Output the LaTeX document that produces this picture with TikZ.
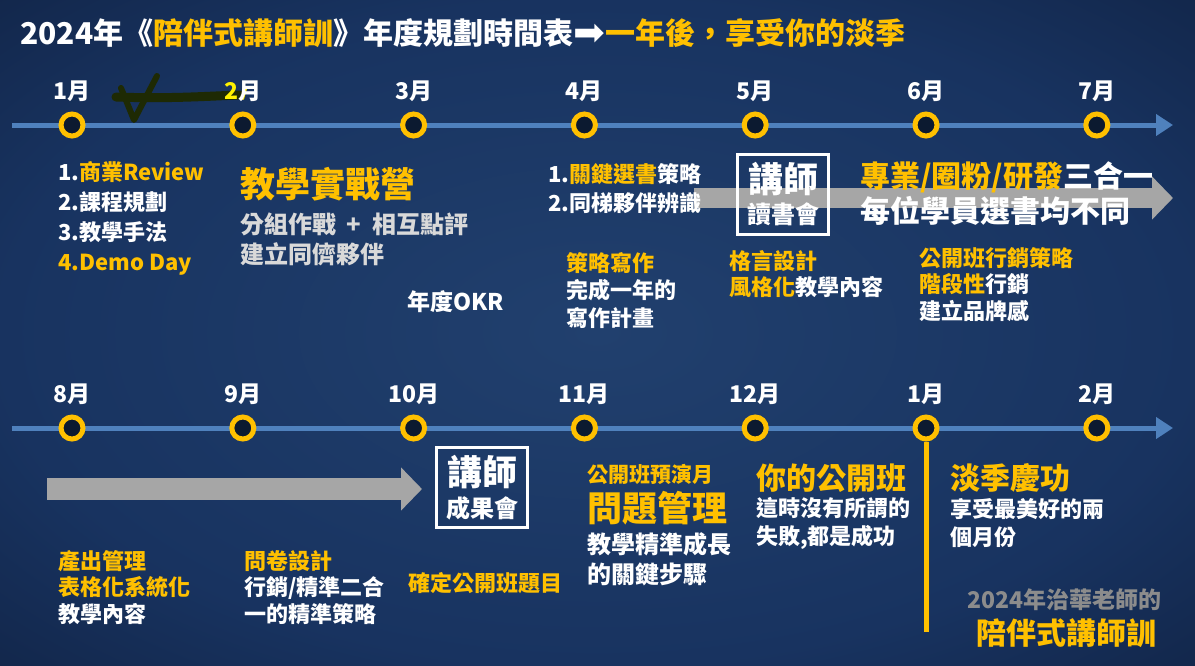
\documentclass[tikz,border=0pt]{standalone}
\usepackage{fontspec}
\setmainfont{Noto Sans CJK TC}
\newfontfamily\arrowfont{DejaVu Sans}
\usetikzlibrary{positioning,arrows.meta}

\definecolor{ochre}{HTML}{FFC000}
\definecolor{lineblue}{HTML}{4F81BD}
\definecolor{arrowgray}{HTML}{A6A6A6}
\definecolor{softgray}{HTML}{D9D9D9}
\definecolor{signgray}{HTML}{8C8C8C}
\definecolor{dotfill}{HTML}{0C1A30}
\definecolor{inkgreen}{HTML}{1E2A04}
\definecolor{bgcore}{HTML}{21406E}
\definecolor{bgmid}{HTML}{183360}
\definecolor{bgedge}{HTML}{0B1730}

\pgfdeclareradialshading{bgglow}{\pgfpoint{0bp}{0bp}}{color(0bp)=(bgcore); color(25bp)=(bgmid); color(50bp)=(bgedge)}

\newcommand{\fsz}[2]{\fontsize{#1}{#2}\selectfont}
\newcommand{\hl}[1]{\textcolor{ochre}{#1}}

\tikzset{
  timeline/.style={lineblue, line width=5pt, -{Triangle[length=17pt,width=21pt]}},
  bigarrow/.style={arrowgray, -{Triangle[length=21pt,width=42pt]}},
  dot/.style={circle, draw=ochre, line width=5pt, fill=dotfill, minimum size=22pt, inner sep=0pt},
  month/.style={text=white, inner sep=0pt, font=\bfseries\fsz{23}{23}},
  txt/.style={anchor=west, inner sep=0pt, align=left, text=white},
  frame/.style={draw=white, line width=3pt, minimum width=91pt, minimum height=80pt, inner sep=0pt},
}

\begin{document}
\begin{tikzpicture}[x=1pt,y=-1pt]
  \useasboundingbox (0,0) rectangle (1195,665);
  \shade[shading=bgglow] (0,0) rectangle (1195,665);

  % grey arrows behind the text
  \coordinate (g1s) at (694,198);
  \coordinate (g1e) at (1173,198);
  \draw [bigarrow, line width=20pt] (g1s) -- (g1e);
  \coordinate (g2s) at (47,489);
  \coordinate (g2e) at (422,489);
  \draw [bigarrow, line width=22pt] (g2s) -- (g2e);

  % the two time lines
  \coordinate (r1s) at (12,125);
  \coordinate (r1e) at (1173,125);
  \draw [timeline] (r1s) -- (r1e);
  \coordinate (r2s) at (12,428);
  \coordinate (r2e) at (1173,428);
  \draw [timeline] (r2s) -- (r2e);

  % hand-drawn tick
  \draw [inkgreen, line width=9pt, line cap=round] (116,97) .. controls (170,99) and (210,96) .. (240,95);
  \draw [inkgreen, line width=6pt, line cap=round, line join=round] (121,88) -- (134,120) -- (157,76);
  \draw [yellow, line width=2pt, line cap=round] (246.5,87) -- (243,99);

  \foreach \lab [count=\i] in {1月,{\textcolor{yellow}{2}月},3月,4月,5月,6月,7月} {
    \node [dot] (m\i) at ({72+170.8*(\i-1)},125) {};
    \node [month, above=10pt of m\i] (ml\i) {\lab};
  }
  \foreach \lab [count=\i] in {8月,9月,10月,11月,12月,1月,2月} {
    \node [dot] (n\i) at ({72+170.8*(\i-1)},428) {};
    \node [month, above=10pt of n\i] (nl\i) {\lab};
  }
  \coordinate (dropend) at (926,632);
  \draw [ochre, line width=5pt] (n6.south) -- (dropend);

  \node [txt, font=\bfseries\fsz{30}{30}] (title) at (20,33)
    {2024年《\hl{陪伴式講師訓}》年度規劃時間表{\arrowfont\mdseries\fsz{38}{38}\raisebox{-1pt}{➡}}\hl{一年後，享受你的淡季}};

  % first half of the year
  \node [txt, font=\bfseries\fsz{22}{30}] (review) at (58,218.5)
    {1.\hl{商業Review}\\2.課程規劃\\3.教學手法\\\hl{4.Demo Day}};
  \node [txt, text=ochre, font=\bfseries\fsz{35}{35}] (camp) at (240,184) {教學實戰營};
  \node [txt, text=softgray, font=\bfseries\fsz{24}{30}] (campsub) at (240,239)
    {分組作戰\hspace{0.45em}+\hspace{0.45em}相互點評\\建立同儕夥伴};
  \node [txt, font=\bfseries\fsz{23}{23}] (okr) at (407,302) {年度OKR};
  \node [txt, font=\bfseries\fsz{22}{29}] (books) at (548,188.5)
    {1.\hl{關鍵選書}策略\\2.同梯夥伴辨識};
  \node [txt, font=\bfseries\fsz{22}{27.5}] (writing) at (566,290.5)
    {\hl{策略寫作}\\完成一年的\\寫作計畫};
  \node [frame] (readbox) at (783,194.5) {};
  \node [text=white, inner sep=0pt, font=\bfseries\fsz{35}{35}] (readtop) at (783,179) {講師};
  \node [text=white, inner sep=0pt, font=\bfseries\fsz{24}{24}] (readbot) at (783,214) {讀書會};
  \node [txt, font=\bfseries\fsz{30}{35}] (triad) at (860,193.5)
    {\hl{專業/圈粉/研發}三合一\\每位學員選書均不同};
  \node [txt, font=\bfseries\fsz{22}{26}] (motto) at (729,274)
    {\hl{格言設計}\\\hl{風格化}教學內容};
  \node [txt, font=\bfseries\fsz{22}{26.5}] (promo) at (919,284.5)
    {\hl{公開班行銷策略}\\\hl{階段性}行銷\\建立品牌感};

  % second half of the year
  \node [txt, font=\bfseries\fsz{22}{26.5}] (output) at (58,587.5)
    {\hl{產出管理}\\\hl{表格化系統化}\\教學內容};
  \node [txt, font=\bfseries\fsz{22}{26.5}] (survey) at (244,587.5)
    {\hl{問卷設計}\\行銷/精準二合\\一的精準策略};
  \node [frame] (resultbox) at (482,487.5) {};
  \node [text=white, inner sep=0pt, font=\bfseries\fsz{35}{35}] (resulttop) at (482,472) {講師};
  \node [text=white, inner sep=0pt, font=\bfseries\fsz{24}{24}] (resultbot) at (482,508) {成果會};
  \node [txt, text=ochre, font=\bfseries\fsz{22}{22}] (topic) at (408,583) {確定公開班題目};
  \node [txt, text=ochre, font=\bfseries\fsz{21}{21}] (rehearsal) at (587,474) {公開班預演月};
  \node [txt, text=ochre, font=\bfseries\fsz{35}{35}] (issue) at (587,508) {問題管理};
  \node [txt, font=\bfseries\fsz{24}{30}] (growth) at (587,559) {教學精準成長\\的關鍵步驟};
  \node [txt, text=ochre, font=\bfseries\fsz{30}{30}] (yourclass) at (756,478) {你的公開班};
  \node [txt, font=\bfseries\fsz{22}{28}] (nofail) at (756,523) {這時沒有所謂的\\失敗,都是成功};
  \node [txt, text=ochre, font=\bfseries\fsz{30}{30}] (celebrate) at (950,478) {淡季慶功};
  \node [txt, font=\bfseries\fsz{22}{28}] (enjoy) at (950,523) {享受最美好的兩\\個月份};
  \node [anchor=east, inner sep=0pt, text=signgray, font=\bfseries\fsz{23}{23}] (sign) at (1162,600) {2024年治華老師的};
  \node [anchor=east, inner sep=0pt, text=ochre, font=\bfseries\fsz{30}{30}] (brand) at (1157,633) {陪伴式講師訓};
\end{tikzpicture}
\end{document}
